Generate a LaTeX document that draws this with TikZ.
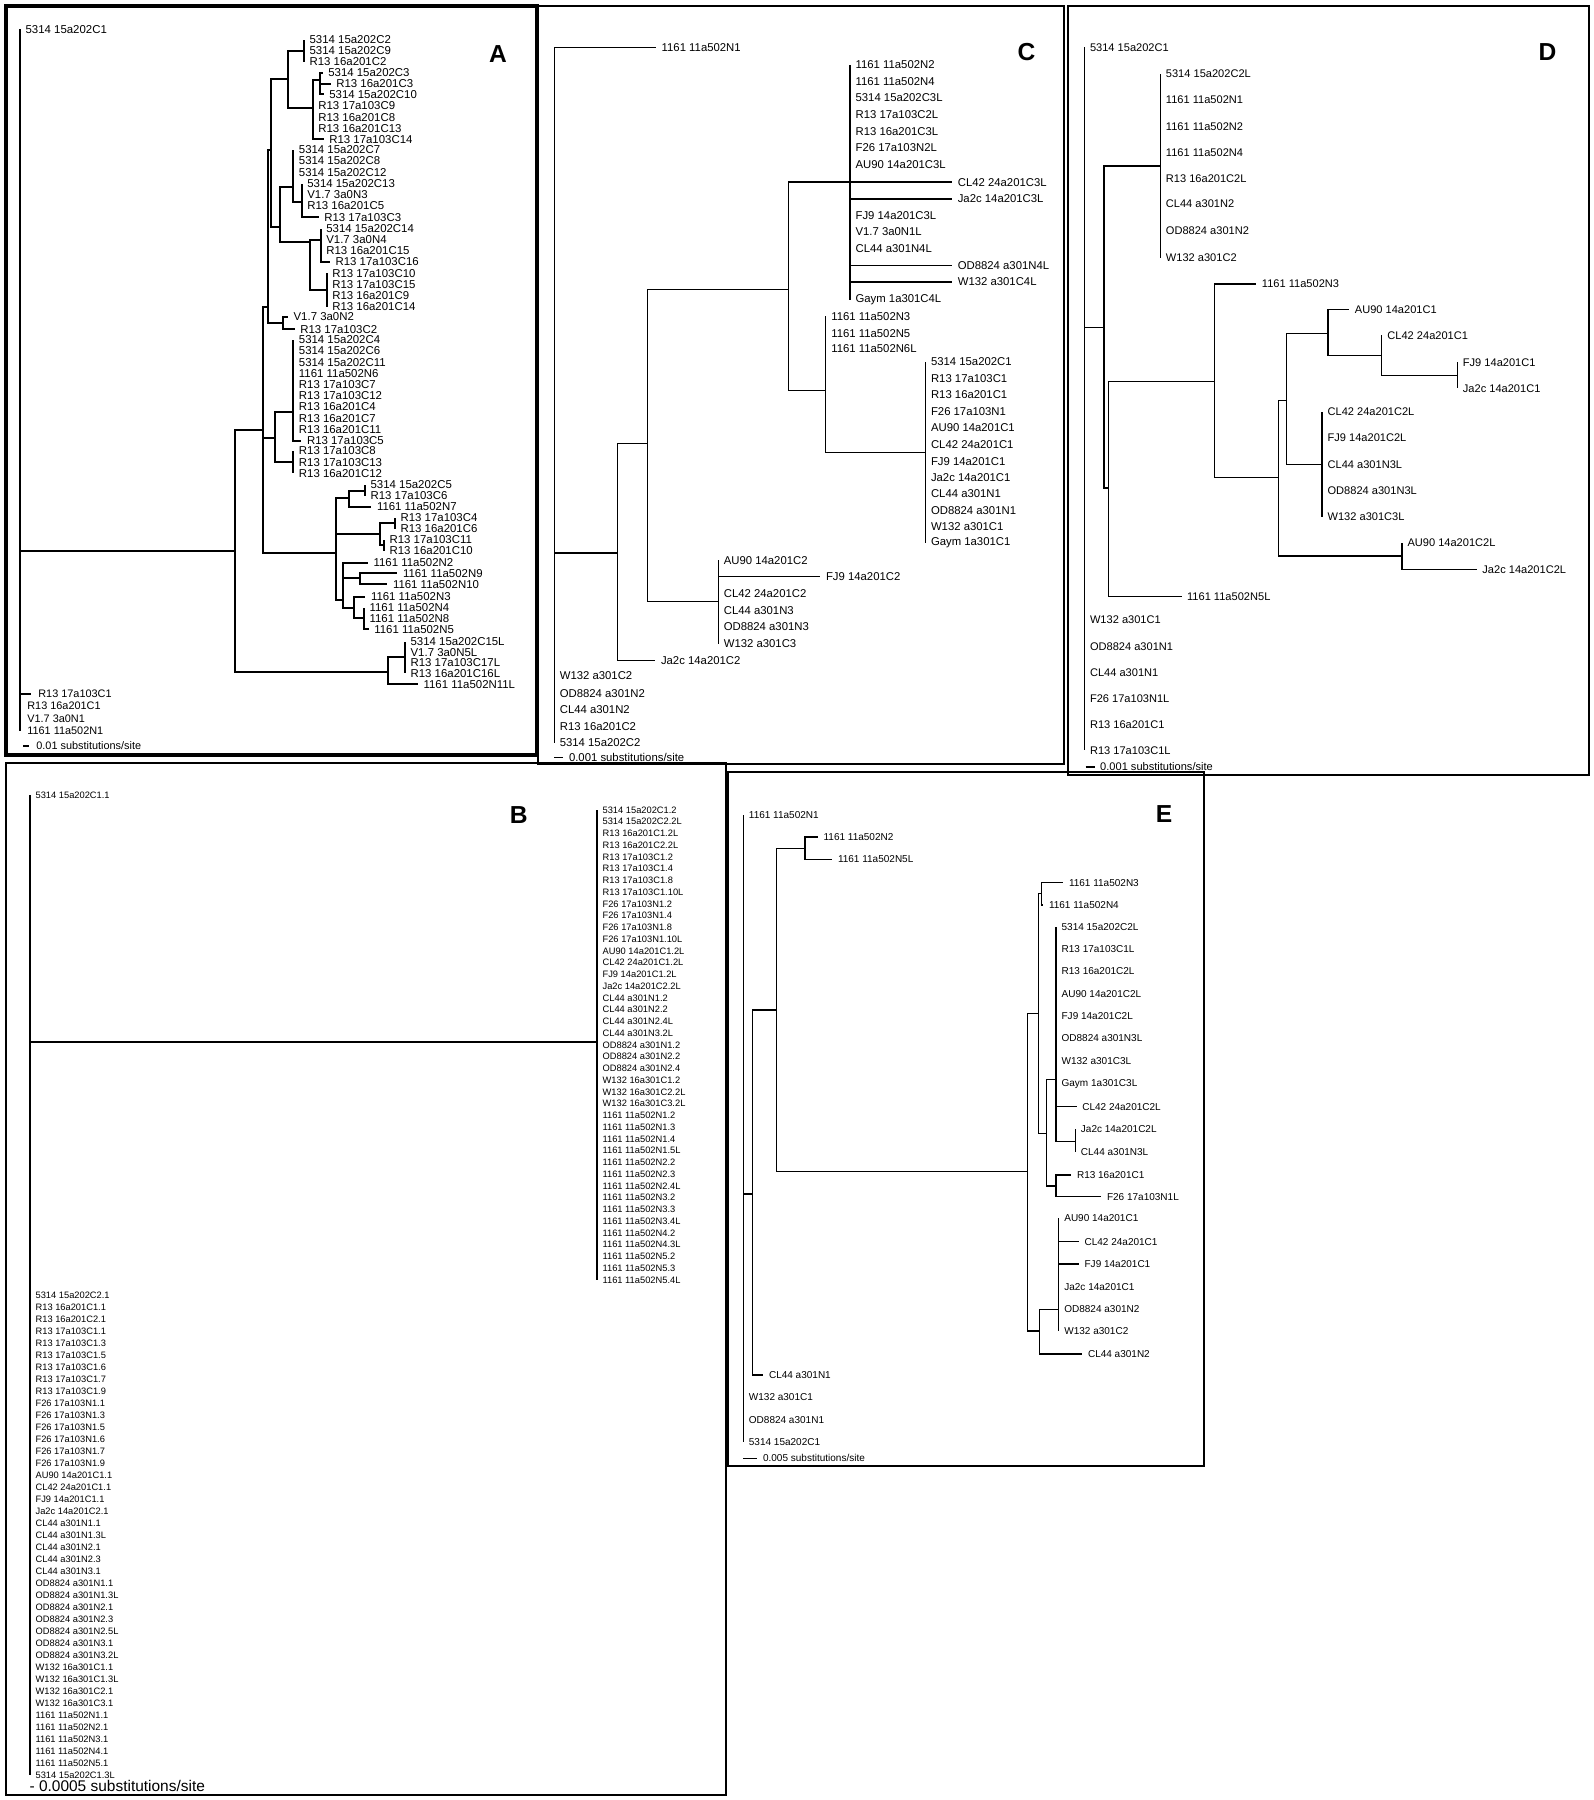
\documentclass[tikz,border=0pt]{standalone}
\usepackage{fontspec}
\setmainfont{Liberation Sans}
\tikzset{
  treeleaf/.style={anchor=west, inner xsep=3pt, inner ysep=0.5pt},
  leafA/.style={treeleaf, font=\fontsize{6.5}{7.5}\selectfont},
  leafAs/.style={treeleaf, inner xsep=4pt, font=\fontsize{6.2}{7}\selectfont},
  leafB/.style={treeleaf, font=\fontsize{5.3}{6}\selectfont},
  leafC/.style={treeleaf, font=\fontsize{6.45}{7.5}\selectfont},
  leafD/.style={treeleaf, font=\fontsize{6.3}{7.5}\selectfont},
  leafE/.style={treeleaf, font=\fontsize{5.7}{7}\selectfont},
  branchA/.style={line width=1.1pt},
  branchB/.style={line width=0.9pt},
  branchCDE/.style={line width=0.7pt},
  panelbox/.style={line width=1.4pt},
  panelno/.style={font=\fontsize{14}{16}\selectfont\bfseries},
}

\begin{document}
\begin{tikzpicture}[x=0.02cm, y=-0.02cm]
  \useasboundingbox (0,0) rectangle (1594,1800);
  % A
  \draw[panelbox, line width=1.8pt] (6,6) rectangle (537,755);
  \node[panelno] (labA) at (498,54) {A};
  \coordinate (aR) at (20,551);
  \coordinate (ai0) at (235,551);
  \coordinate (ai1) at (263.3,430);
  \coordinate (ai2) at (388.3,671.7);
  \coordinate (ai3) at (405,656.7);
  \coordinate (ai4) at (268,306.7);
  \coordinate (ai5) at (275,438.3);
  \coordinate (ai6) at (336,552.7);
  \coordinate (ai7) at (271,150);
  \coordinate (ai8) at (283.3,323.3);
  \coordinate (ai9) at (288.3,79.3);
  \coordinate (ai10) at (304,50.7);
  \coordinate (ai11) at (312.7,108.3);
  \coordinate (ai12) at (320,80);
  \coordinate (ai13) at (280,226.7);
  \coordinate (ai14) at (293.3,186.7);
  \coordinate (ai15) at (301.7,202);
  \coordinate (ai16) at (310,241.7);
  \coordinate (ai17) at (320.7,240);
  \coordinate (ai18) at (326.7,290);
  \coordinate (ai19) at (293.3,411.7);
  \coordinate (ai20) at (293.3,461.7);
  \coordinate (ai21) at (349.3,498.3);
  \coordinate (ai22) at (365,490.7);
  \coordinate (ai23) at (380,534.3);
  \coordinate (ai24) at (395,523.3);
  \coordinate (ai25) at (384,545);
  \coordinate (ai26) at (343.3,600);
  \coordinate (ai27) at (360,578.3);
  \coordinate (ai28) at (354,608.3);
  \coordinate (ai29) at (364,618);
  \node[leafA] (a0) at (20,29.3) {5314 15a202C1};
  \node[leafA] (a1) at (304,40) {5314 15a202C2};
  \node[leafA] (a2) at (304,50.7) {5314 15a202C9};
  \node[leafA] (a3) at (304,61.7) {R13 16a201C2};
  \node[leafA] (a4) at (322.7,72.7) {5314 15a202C3};
  \node[leafA] (a5) at (330.7,84) {R13 16a201C3};
  \node[leafA] (a6) at (323.7,94.3) {5314 15a202C10};
  \node[leafA] (a7) at (312.7,106) {R13 17a103C9};
  \node[leafA] (a8) at (312.7,117.7) {R13 16a201C8};
  \node[leafA] (a9) at (312.7,128.3) {R13 16a201C13};
  \node[leafA] (a10) at (323.7,139.3) {R13 17a103C14};
  \node[leafA] (a11) at (293.3,150) {5314 15a202C7};
  \node[leafA] (a12) at (293.3,161) {5314 15a202C8};
  \node[leafA] (a13) at (293.3,172.7) {5314 15a202C12};
  \node[leafA] (a14) at (301.7,184) {5314 15a202C13};
  \node[leafA] (a15) at (301.7,195) {V1.7 3a0N3};
  \node[leafA] (a16) at (301.7,206) {R13 16a201C5};
  \node[leafA] (a17) at (318.7,217.3) {R13 17a103C3};
  \node[leafA] (a18) at (320.7,229) {5314 15a202C14};
  \node[leafA] (a19) at (320.7,240) {V1.7 3a0N4};
  \node[leafA] (a20) at (320.7,250.7) {R13 16a201C15};
  \node[leafA] (a21) at (330,261.7) {R13 17a103C16};
  \node[leafA] (a22) at (326.7,273.3) {R13 17a103C10};
  \node[leafA] (a23) at (326.7,284.3) {R13 17a103C15};
  \node[leafA] (a24) at (326.7,295.7) {R13 16a201C9};
  \node[leafA] (a25) at (326.7,306.7) {R13 16a201C14};
  \node[leafA] (a26) at (288,316.7) {V1.7 3a0N2};
  \node[leafA] (a27) at (294.7,329.3) {R13 17a103C2};
  \node[leafA] (a28) at (293.3,340) {5314 15a202C4};
  \node[leafA] (a29) at (293.3,351) {5314 15a202C6};
  \node[leafA] (a30) at (293.3,362.3) {5314 15a202C11};
  \node[leafA] (a31) at (293.3,373.3) {1161 11a502N6};
  \node[leafA] (a32) at (293.3,385) {R13 17a103C7};
  \node[leafA] (a33) at (293.3,396) {R13 17a103C12};
  \node[leafA] (a34) at (293.3,406.7) {R13 16a201C4};
  \node[leafA] (a35) at (293.3,418.3) {R13 16a201C7};
  \node[leafA] (a36) at (293.3,429.3) {R13 16a201C11};
  \node[leafA] (a37) at (301.4,440.7) {R13 17a103C5};
  \node[leafA] (a38) at (293.3,451) {R13 17a103C8};
  \node[leafA] (a39) at (293.3,462.3) {R13 17a103C13};
  \node[leafA] (a40) at (293.3,473.3) {R13 16a201C12};
  \node[leafA] (a41) at (365,485) {5314 15a202C5};
  \node[leafA] (a42) at (365,496) {R13 17a103C6};
  \node[leafA] (a43) at (371.4,506.7) {1161 11a502N7};
  \node[leafA] (a44) at (395,517.7) {R13 17a103C4};
  \node[leafA] (a45) at (395,529) {R13 16a201C6};
  \node[leafA] (a46) at (384,540) {R13 17a103C11};
  \node[leafA] (a47) at (384,551) {R13 16a201C10};
  \node[leafA] (a48) at (368,562.7) {1161 11a502N2};
  \node[leafA] (a49) at (397.4,573.3) {1161 11a502N9};
  \node[leafA] (a50) at (387.4,584.3) {1161 11a502N10};
  \node[leafA] (a51) at (365.4,596.7) {1161 11a502N3};
  \node[leafA] (a52) at (364,607.7) {1161 11a502N4};
  \node[leafA] (a53) at (364,618.3) {1161 11a502N8};
  \node[leafA] (a54) at (368.7,629.3) {1161 11a502N5};
  \node[leafA] (a55) at (405,641.7) {5314 15a202C15L};
  \node[leafA] (a56) at (405,652.7) {V1.7 3a0N5L};
  \node[leafA] (a57) at (405,662.7) {R13 17a103C17L};
  \node[leafA] (a58) at (405,673.3) {R13 16a201C16L};
  \node[leafA] (a59) at (418,684.3) {1161 11a502N11L};
  \node[leafAs] (a60) at (31,694) {R13 17a103C1};
  \node[leafAs] (a61) at (20,706) {R13 16a201C1};
  \node[leafAs] (a62) at (20,718.5) {V1.7 3a0N1};
  \node[leafAs] (a63) at (20,730.5) {1161 11a502N1};
  \foreach \p/\c in {aR/a0, aR/ai0, aR/a60, aR/a61, aR/a62, aR/a63,
      ai0/ai1, ai0/ai2, ai2/ai3, ai2/a59, ai3/a55, ai3/a56, ai3/a57, ai3/a58,
      ai1/ai4, ai1/ai5, ai1/ai6, ai4/ai7, ai4/ai8, ai8/a26, ai8/a27,
      ai7/ai9, ai7/ai13, ai9/ai10, ai9/ai11, ai10/a1, ai10/a2, ai10/a3,
      ai11/ai12, ai11/a7, ai11/a8, ai11/a9, ai11/a10, ai12/a4, ai12/a5, ai12/a6,
      ai13/ai14, ai13/ai16, ai14/a11, ai14/a12, ai14/a13, ai14/ai15,
      ai15/a14, ai15/a15, ai15/a16, ai15/a17, ai16/ai17, ai16/ai18,
      ai17/a18, ai17/a19, ai17/a20, ai17/a21, ai18/a22, ai18/a23, ai18/a24, ai18/a25,
      ai5/ai19, ai5/ai20, ai19/a28, ai19/a29, ai19/a30, ai19/a31, ai19/a32,
      ai19/a33, ai19/a34, ai19/a35, ai19/a36, ai19/a37, ai20/a38, ai20/a39, ai20/a40,
      ai6/ai21, ai6/ai23, ai6/ai26, ai21/ai22, ai21/a43, ai22/a41, ai22/a42,
      ai23/ai24, ai23/ai25, ai24/a44, ai24/a45, ai25/a46, ai25/a47,
      ai26/a48, ai26/ai27, ai26/ai28, ai27/a49, ai27/a50, ai28/a51, ai28/ai29,
      ai29/a52, ai29/a53, ai29/a54}
    \draw[branchA] (\p) |- (\c);
  \coordinate (aBar) at (23,746);
  \node[leafAs] (aSc) at (29,746) {0.01 substitutions/site};
  \draw[branchA] (aBar) -- (aSc);

  % C
  \draw[panelbox] (538,6) rectangle (1064,764);
  \node[panelno] (labC) at (1026.5,52) {C};
  \coordinate (cR) at (554.2,553);
  \coordinate (ci1) at (617.4,553);
  \coordinate (ci2) at (647.2,443.2);
  \coordinate (ci3) at (788.2,289.6);
  \coordinate (ci4) at (718.2,601.2);
  \coordinate (ci5) at (850,182.1);
  \coordinate (ci6) at (825.7,390.7);
  \coordinate (ci8) at (925.4,452.3);
  \node[leafC] (c1) at (656.1,47.6) {1161 11a502N1};
  \node[leafC] (c2) at (850,64.8) {1161 11a502N2};
  \node[leafC] (c3) at (850,81.4) {1161 11a502N4};
  \node[leafC] (c4) at (850,97.6) {5314 15a202C3L};
  \node[leafC] (c5) at (850,114.5) {R13 17a103C2L};
  \node[leafC] (c6) at (850,131.4) {R13 16a201C3L};
  \node[leafC] (c7) at (850,147.6) {F26 17a103N2L};
  \node[leafC] (c8) at (850,164.5) {AU90 14a201C3L};
  \node[leafC] (c9) at (952.2,182.1) {CL42 24a201C3L};
  \node[leafC] (c10) at (952.2,199) {Ja2c 14a201C3L};
  \node[leafC] (c11) at (850,215.3) {FJ9 14a201C3L};
  \node[leafC] (c12) at (850,231.8) {V1.7 3a0N1L};
  \node[leafC] (c13) at (850,249) {CL44 a301N4L};
  \node[leafC] (c14) at (952.2,265.6) {OD8824 a301N4L};
  \node[leafC] (c15) at (952.2,281.9) {W132 a301C4L};
  \node[leafC] (c16) at (850,299.8) {Gaym 1a301C4L};
  \node[leafC] (c17) at (825.7,316.3) {1161 11a502N3};
  \node[leafC] (c18) at (825.7,333.2) {1161 11a502N5};
  \node[leafC] (c19) at (825.7,348.8) {1161 11a502N6L};
  \node[leafC] (c20) at (925.4,362) {5314 15a202C1};
  \node[leafC] (c21) at (925.4,378.6) {R13 17a103C1};
  \node[leafC] (c22) at (925.4,394.6) {R13 16a201C1};
  \node[leafC] (c23) at (925.4,411.1) {F26 17a103N1};
  \node[leafC] (c24) at (925.4,427.8) {AU90 14a201C1};
  \node[leafC] (c25) at (925.4,444.5) {CL42 24a201C1};
  \node[leafC] (c26) at (925.4,461.3) {FJ9 14a201C1};
  \node[leafC] (c27) at (925.4,477.3) {Ja2c 14a201C1};
  \node[leafC] (c28) at (925.4,494) {CL44 a301N1};
  \node[leafC] (c29) at (925.4,510.8) {OD8824 a301N1};
  \node[leafC] (c30) at (925.4,526.8) {W132 a301C1};
  \node[leafC] (c31) at (925.4,542.5) {Gaym 1a301C1};
  \node[leafC] (c32) at (718.2,560.3) {AU90 14a201C2};
  \node[leafC] (c33) at (820.4,576.4) {FJ9 14a201C2};
  \node[leafC] (c34) at (718.2,593.8) {CL42 24a201C2};
  \node[leafC] (c35) at (718.2,610.6) {CL44 a301N3};
  \node[leafC] (c36) at (718.2,626.9) {OD8824 a301N3};
  \node[leafC] (c37) at (718.2,643.6) {W132 a301C3};
  \node[leafC] (c38) at (655.4,660.4) {Ja2c 14a201C2};
  \node[leafC] (c39) at (554.2,675.8) {W132 a301C2};
  \node[leafC] (c40) at (554.2,693.2) {OD8824 a301N2};
  \node[leafC] (c41) at (554.2,710) {CL44 a301N2};
  \node[leafC] (c42) at (554.2,726.7) {R13 16a201C2};
  \node[leafC] (c43) at (554.2,742.7) {5314 15a202C2};
  \foreach \p/\c in {cR/c1, cR/ci1, cR/c39, cR/c40, cR/c41, cR/c42, cR/c43,
      ci1/ci2, ci1/c38, ci2/ci3, ci2/ci4, ci3/ci5, ci3/ci6,
      ci5/c2, ci5/c3, ci5/c4, ci5/c5, ci5/c6, ci5/c7, ci5/c8, ci5/c9, ci5/c10,
      ci5/c11, ci5/c12, ci5/c13, ci5/c14, ci5/c15, ci5/c16,
      ci6/c17, ci6/c18, ci6/c19, ci6/ci8,
      ci8/c20, ci8/c21, ci8/c22, ci8/c23, ci8/c24, ci8/c25, ci8/c26, ci8/c27,
      ci8/c28, ci8/c29, ci8/c30, ci8/c31,
      ci4/c32, ci4/c33, ci4/c34, ci4/c35, ci4/c36, ci4/c37}
    \draw[branchCDE] (\p) |- (\c);
  \coordinate (cBar) at (554,757.5);
  \node[leafC] (cSc) at (563.4,757.5) {0.001 substitutions/site};
  \draw[branchCDE] (cBar) -- (cSc);

  % D
  \draw[panelbox] (1068,6) rectangle (1589,775);
  \node[panelno] (labD) at (1547.5,52) {D};
  \coordinate (dR) at (1084.4,327.7);
  \coordinate (di1) at (1103.9,327.7);
  \coordinate (di2) at (1160.3,165.9);
  \coordinate (di3) at (1108.3,487.9);
  \coordinate (di4) at (1214.7,381.7);
  \coordinate (di5) at (1278.4,477.2);
  \coordinate (di6) at (1286.8,400.8);
  \coordinate (di7) at (1401.9,556);
  \coordinate (di8) at (1328,333.7);
  \coordinate (di9) at (1322,464.4);
  \coordinate (di10) at (1381.8,355.5);
  \coordinate (di11) at (1457.3,375.6);
  \node[leafD] (d1) at (1084.4,47.4) {5314 15a202C1};
  \node[leafD] (d2) at (1160.3,73.6) {5314 15a202C2L};
  \node[leafD] (d3) at (1160.3,99.5) {1161 11a502N1};
  \node[leafD] (d4) at (1160.3,126.3) {1161 11a502N2};
  \node[leafD] (d5) at (1160.3,152.5) {1161 11a502N4};
  \node[leafD] (d6) at (1160.3,178.3) {R13 16a201C2L};
  \node[leafD] (d7) at (1160.3,203.8) {CL44 a301N2};
  \node[leafD] (d8) at (1160.3,230.7) {OD8824 a301N2};
  \node[leafD] (d9) at (1160.3,257.5) {W132 a301C2};
  \node[leafD] (d10) at (1256.3,284) {1161 11a502N3};
  \node[leafD] (d11) at (1349.3,309.5) {AU90 14a201C1};
  \node[leafD] (d12) at (1381.8,335.4) {CL42 24a201C1};
  \node[leafD] (d13) at (1457.3,362.2) {FJ9 14a201C1};
  \node[leafD] (d14) at (1457.3,388.4) {Ja2c 14a201C1};
  \node[leafD] (d15) at (1322,411.7) {CL42 24a201C2L};
  \node[leafD] (d16) at (1322,437.9) {FJ9 14a201C2L};
  \node[leafD] (d17) at (1322,464.4) {CL44 a301N3L};
  \node[leafD] (d18) at (1322,490.6) {OD8824 a301N3L};
  \node[leafD] (d19) at (1322,516.8) {W132 a301C3L};
  \node[leafD] (d20) at (1401.9,542.6) {AU90 14a201C2L};
  \node[leafD] (d21) at (1476.8,569.5) {Ja2c 14a201C2L};
  \node[leafD] (d22) at (1181.5,596.3) {1161 11a502N5L};
  \node[leafD] (d23) at (1084.4,619.7) {W132 a301C1};
  \node[leafD] (d24) at (1084.4,646.3) {OD8824 a301N1};
  \node[leafD] (d25) at (1084.4,672.3) {CL44 a301N1};
  \node[leafD] (d26) at (1084.4,698.9) {F26 17a103N1L};
  \node[leafD] (d27) at (1084.4,724.6) {R13 16a201C1};
  \node[leafD] (d28) at (1084.4,750.2) {R13 17a103C1L};
  \foreach \p/\c in {dR/d1, dR/di1, dR/d23, dR/d24, dR/d25, dR/d26, dR/d27, dR/d28,
      di1/di2, di1/di3, di2/d2, di2/d3, di2/d4, di2/d5, di2/d6, di2/d7, di2/d8, di2/d9,
      di3/di4, di3/d22, di4/d10, di4/di5, di5/di6, di5/di7, di6/di8, di6/di9,
      di8/d11, di8/di10, di10/d12, di10/di11, di11/d13, di11/d14,
      di9/d15, di9/d16, di9/d17, di9/d18, di9/d19, di7/d20, di7/d21}
    \draw[branchCDE] (\p) |- (\c);
  \coordinate (dBar) at (1085.5,767);
  \node[leafD] (dSc) at (1094.6,767) {0.001 substitutions/site};
  \draw[branchCDE] (dBar) -- (dSc);

  % B
  \draw[panelbox] (6,763) rectangle (726,1795);
  \node[panelno] (labB) at (518.7,814.8) {B};
  \coordinate (bR) at (30,1042);
  \coordinate (bi1) at (597,1042);
  \node[leafB] (b0) at (30,795) {5314 15a202C1.1};
  \foreach \t [count=\i] in {5314 15a202C1.2, 5314 15a202C2.2L, R13 16a201C1.2L,
      R13 16a201C2.2L, R13 17a103C1.2, R13 17a103C1.4, R13 17a103C1.8,
      R13 17a103C1.10L, F26 17a103N1.2, F26 17a103N1.4, F26 17a103N1.8,
      F26 17a103N1.10L, AU90 14a201C1.2L, CL42 24a201C1.2L, FJ9 14a201C1.2L,
      Ja2c 14a201C2.2L, CL44 a301N1.2, CL44 a301N2.2, CL44 a301N2.4L,
      CL44 a301N3.2L, OD8824 a301N1.2, OD8824 a301N2.2, OD8824 a301N2.4,
      W132 16a301C1.2, W132 16a301C2.2L, W132 16a301C3.2L, 1161 11a502N1.2,
      1161 11a502N1.3, 1161 11a502N1.4, 1161 11a502N1.5L, 1161 11a502N2.2,
      1161 11a502N2.3, 1161 11a502N2.4L, 1161 11a502N3.2, 1161 11a502N3.3,
      1161 11a502N3.4L, 1161 11a502N4.2, 1161 11a502N4.3L, 1161 11a502N5.2,
      1161 11a502N5.3, 1161 11a502N5.4L} {
    \node[leafB] (br\i) at (597,798.25+11.75*\i) {\t};
    \draw[branchB] (bi1) |- (br\i);
  }
  \foreach \t [count=\i] in {5314 15a202C2.1, R13 16a201C1.1, R13 16a201C2.1,
      R13 17a103C1.1, R13 17a103C1.3, R13 17a103C1.5, R13 17a103C1.6,
      R13 17a103C1.7, R13 17a103C1.9, F26 17a103N1.1, F26 17a103N1.3,
      F26 17a103N1.5, F26 17a103N1.6, F26 17a103N1.7, F26 17a103N1.9,
      AU90 14a201C1.1, CL42 24a201C1.1, FJ9 14a201C1.1, Ja2c 14a201C2.1,
      CL44 a301N1.1, CL44 a301N1.3L, CL44 a301N2.1, CL44 a301N2.3, CL44 a301N3.1,
      OD8824 a301N1.1, OD8824 a301N1.3L, OD8824 a301N2.1, OD8824 a301N2.3,
      OD8824 a301N2.5L, OD8824 a301N3.1, OD8824 a301N3.2L, W132 16a301C1.1,
      W132 16a301C1.3L, W132 16a301C2.1, W132 16a301C3.1, 1161 11a502N1.1,
      1161 11a502N2.1, 1161 11a502N3.1, 1161 11a502N4.1, 1161 11a502N5.1,
      5314 15a202C1.3L} {
    \node[leafB] (bl\i) at (30,1283+12*\i) {\t};
    \draw[branchB] (bR) |- (bl\i);
  }
  \draw[branchB] (bR) |- (b0) (bR) -- (bi1);
  \node[treeleaf, font=\fontsize{8.8}{10}\selectfont] (bSc) at (24,1786) {- 0.0005 substitutions/site};

  % E
  \draw[panelbox] (728,772) rectangle (1204,1466);
  \node[panelno] (labE) at (1164,814) {E};
  \coordinate (eR) at (743.3,1194);
  \coordinate (ei1) at (752.7,1194);
  \coordinate (ei2) at (776.7,1010);
  \coordinate (ei3) at (805,848.7);
  \coordinate (ei4) at (1027.7,1171.7);
  \coordinate (ei5) at (1038.7,1013.3);
  \coordinate (ei6) at (1039.3,1331);
  \coordinate (ei7) at (1041.7,893.7);
  \coordinate (ei8) at (1046.7,1133.3);
  \coordinate (ei9) at (1056,1079.3);
  \coordinate (ei10) at (1056,1186);
  \coordinate (ei11) at (1075.3,1141.7);
  \coordinate (ei12) at (1058.7,1309.3);
  \node[leafE] (e1) at (743.3,815) {1161 11a502N1};
  \node[leafE] (e2) at (818,837) {1161 11a502N2};
  \node[leafE] (e3) at (832.4,859.3) {1161 11a502N5L};
  \node[leafE] (e4) at (1063.4,882.7) {1161 11a502N3};
  \node[leafE] (e5) at (1043.4,905) {1161 11a502N4};
  \node[leafE] (e6) at (1056,926.7) {5314 15a202C2L};
  \node[leafE] (e7) at (1056,948.7) {R13 17a103C1L};
  \node[leafE] (e8) at (1056,971.3) {R13 16a201C2L};
  \node[leafE] (e9) at (1056,993.7) {AU90 14a201C2L};
  \node[leafE] (e10) at (1056,1016) {FJ9 14a201C2L};
  \node[leafE] (e11) at (1056,1038.3) {OD8824 a301N3L};
  \node[leafE] (e12) at (1056,1061) {W132 a301C3L};
  \node[leafE] (e13) at (1056,1084.3) {Gaym 1a301C3L};
  \node[leafE] (e14) at (1076.7,1106.7) {CL42 24a201C2L};
  \node[leafE] (e15) at (1075.3,1129.3) {Ja2c 14a201C2L};
  \node[leafE] (e16) at (1075.3,1152.3) {CL44 a301N3L};
  \node[leafE] (e17) at (1071.4,1175) {R13 16a201C1};
  \node[leafE] (e18) at (1101.4,1196.7) {F26 17a103N1L};
  \node[leafE] (e19) at (1058.7,1218.3) {AU90 14a201C1};
  \node[leafE] (e20) at (1079,1241.7) {CL42 24a201C1};
  \node[leafE] (e21) at (1079,1264) {FJ9 14a201C1};
  \node[leafE] (e22) at (1058.7,1286.7) {Ja2c 14a201C1};
  \node[leafE] (e23) at (1058.7,1309) {OD8824 a301N2};
  \node[leafE] (e24) at (1058.7,1331) {W132 a301C2};
  \node[leafE] (e25) at (1082.4,1354) {CL44 a301N2};
  \node[leafE] (e26) at (763.4,1375) {CL44 a301N1};
  \node[leafE] (e27) at (743.3,1396.7) {W132 a301C1};
  \node[leafE] (e28) at (743.3,1420) {OD8824 a301N1};
  \node[leafE] (e29) at (743.3,1442.3) {5314 15a202C1};
  \foreach \p/\c in {eR/e1, eR/ei1, eR/e27, eR/e28, eR/e29, ei1/ei2, ei1/e26,
      ei2/ei3, ei2/ei4, ei3/e2, ei3/e3, ei4/ei5, ei4/ei6, ei5/ei7, ei5/ei8,
      ei7/e4, ei7/e5, ei8/ei9, ei8/ei10, ei9/e6, ei9/e7, ei9/e8, ei9/e9, ei9/e10,
      ei9/e11, ei9/e12, ei9/e13, ei9/e14, ei9/ei11, ei11/e15, ei11/e16,
      ei10/e17, ei10/e18, ei6/ei12, ei6/e25, ei12/e19, ei12/e20, ei12/e21,
      ei12/e22, ei12/e23, ei12/e24}
    \draw[branchCDE] (\p) |- (\c);
  \coordinate (eBar) at (743.3,1458.3);
  \node[leafE] (eSc) at (757.4,1458.3) {0.005 substitutions/site};
  \draw[branchCDE] (eBar) -- (eSc);
\end{tikzpicture}
\end{document}
